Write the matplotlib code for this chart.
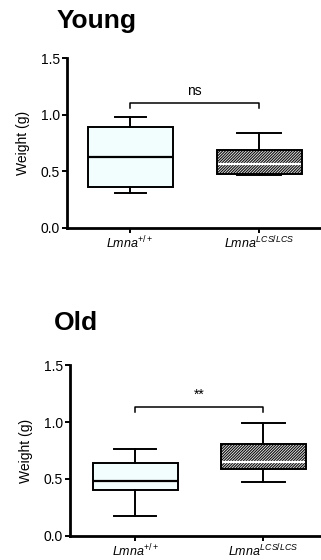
import matplotlib
matplotlib.use('Agg')
from matplotlib import pyplot as plt
from matplotlib.patches import Rectangle

plt.rcParams['font.family'] = ['Liberation Sans', 'DejaVu Sans']
plt.rcParams['mathtext.fontset'] = 'custom'
plt.rcParams['mathtext.rm'] = 'Liberation Sans'
plt.rcParams['mathtext.it'] = 'Liberation Sans:italic'
plt.rcParams['hatch.linewidth'] = 0.55

genotypes = [r'$Lmna^{+/+}$', r'$Lmna^{LCS/LCS}$']

# box summaries: whisker low, Q1, median, Q3, whisker high
young_lo = [0.31, 0.47]
young_q1 = [0.36, 0.48]
young_med = [0.63, 0.565]
young_q3 = [0.89, 0.69]
young_hi = [0.98, 0.84]

old_lo = [0.175, 0.47]
old_q1 = [0.40, 0.59]
old_med = [0.48, 0.65]
old_q3 = [0.64, 0.81]
old_hi = [0.76, 0.99]

young_sig = 'ns'
old_sig = '**'

fig = plt.figure(figsize=(3.21, 5.6), dpi=100)
ax1 = fig.add_axes([0.209, 0.593, 0.791, 0.303])
ax2 = fig.add_axes([0.218, 0.043, 0.782, 0.305])


def draw_panel(ax, lo, q1, med, q3, hi, caps, sig, sig_y, xlim):
    stats = []
    for i in range(2):
        stats.append(dict(whislo=lo[i], q1=q1[i], med=med[i], q3=q3[i],
                          whishi=hi[i], fliers=[]))
    for i in range(2):
        hatched = i == 1
        bp = ax.bxp([stats[i]], positions=[i + 1], widths=0.66,
                    capwidths=[caps[i]], patch_artist=True, showfliers=False,
                    boxprops=dict(linewidth=1.4),
                    whiskerprops=dict(linewidth=1.4, color='black'),
                    capprops=dict(linewidth=1.4, color='black'),
                    medianprops=dict(linewidth=1.6,
                                     color='white' if hatched else 'black'))
        box = bp['boxes'][0]
        if hatched:
            box.set_facecolor('#111111')
            box.set_edgecolor('white')
            box.set_hatch('////////////')
            box.set_linewidth(0)
            ax.add_patch(Rectangle((i + 1 - 0.33, q1[i]), 0.66, q3[i] - q1[i],
                                   fill=False, edgecolor='black', lw=1.4,
                                   zorder=3))
            bp['medians'][0].set_zorder(2.5)
        else:
            box.set_facecolor('#f2fdfd')
            box.set_edgecolor('black')

    # significance bracket
    ax.plot([1, 1, 2, 2], [sig_y - 0.04, sig_y, sig_y, sig_y - 0.04],
            color='black', lw=1.1, clip_on=False)
    ax.text(1.5, sig_y + 0.05, sig, ha='center', va='bottom', fontsize=10)

    ax.set_xlim(*xlim)
    ax.set_ylim(0, 1.5)
    ax.set_yticks([0.0, 0.5, 1.0, 1.5])
    ax.set_yticklabels(['0.0', '0.5', '1.0', '1.5'])
    ax.set_xticks([1, 2])
    ax.set_xticklabels(genotypes, fontsize=9)
    ax.set_ylabel('Weight (g)', fontsize=10, labelpad=8)
    ax.tick_params(axis='y', labelsize=10)
    ax.tick_params(axis='both', width=1.4, length=3.5,
                   direction='out', pad=1.5)
    for side in ['top', 'right']:
        ax.spines[side].set_visible(False)
    for side in ['left', 'bottom']:
        ax.spines[side].set_linewidth(2)


draw_panel(ax1, young_lo, young_q1, young_med, young_q3, young_hi,
           [0.24, 0.34], young_sig, 1.10, (0.51, 2.48))
draw_panel(ax2, old_lo, old_q1, old_med, old_q3, old_hi,
           [0.33, 0.34], old_sig, 1.13, (0.49, 2.45))

fig.text(57 / 321, 1 - 21 / 560, 'Young', fontsize=19, fontweight='bold',
         ha='left', va='center')
fig.text(54 / 321, 1 - 323 / 560, 'Old', fontsize=19, fontweight='bold',
         ha='left', va='center')

plt.savefig('out.png', dpi=100)
